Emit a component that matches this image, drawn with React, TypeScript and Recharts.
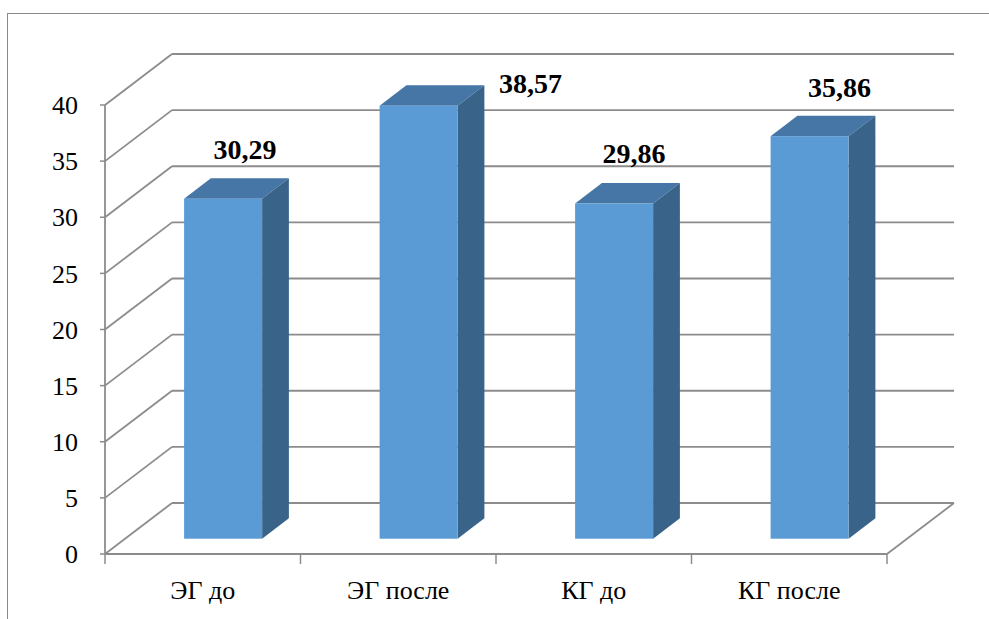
import React from "react"
import {
  BarChart,
  Bar,
  XAxis,
  YAxis,
  CartesianGrid,
  LabelList,
} from "recharts"

const CATEGORIES = ["ЭГ до", "ЭГ после", "КГ до", "КГ после"]
const SCORES = [30.29, 38.57, 29.86, 35.86]
const Y_TICKS = [0, 5, 10, 15, 20, 25, 30, 35, 40]

const chartData = CATEGORIES.map((name, i) => ({ name, score: SCORES[i] }))

const CHART_W = 989
const CHART_H = 619
const X_AXIS_H = 65
const MARGIN = { top: 105, right: 102, bottom: 0, left: 8 }
const Y_AXIS_W = 97
const PLOT_LEFT = MARGIN.left + Y_AXIS_W
const PLOT_RIGHT = CHART_W - MARGIN.right
const PLOT_BOTTOM = CHART_H - MARGIN.bottom - X_AXIS_H
const BAND = (PLOT_RIGHT - PLOT_LEFT) / CATEGORIES.length

// oblique depth of the floor / side wall
const DEPTH_X = 67
const DEPTH_Y = 51
// the columns sit between 30% and 70% of the depth
const FRONT_X = DEPTH_X * 0.3
const FRONT_Y = DEPTH_Y * 0.3
const BOX_X = DEPTH_X * 0.4
const BOX_Y = DEPTH_Y * 0.4

const GRID = "#8c8c8c"
const FONT = "Liberation Serif"

const FACE = "#5b9bd5"
const TOP = "#4676a6"
const SIDE = "#3a6389"

// label nudges so the values don't crowd the tops
const LABEL_NUDGE = [
  [2, 0],
  [92, 27],
  [0, -1],
  [10, 1],
]

function GridLine(props: any) {
  const { x1, x2, y1 } = props
  const by = y1 - DEPTH_Y
  const isFloor = Math.abs(y1 - PLOT_BOTTOM) < 0.5
  return (
    <g stroke={GRID} strokeWidth={1.8} fill="none">
      <line x1={x1} y1={y1} x2={x1 + DEPTH_X} y2={by} />
      <line x1={x1 + DEPTH_X} y1={by} x2={x2 + DEPTH_X} y2={by} />
      {isFloor && (
        <>
          <line x1={x1} y1={y1} x2={x2} y2={y1} />
          <line x1={x2} y1={y1} x2={x2 + DEPTH_X} y2={by} />
        </>
      )}
    </g>
  )
}

function Column(props: any) {
  const { x, y, width, height } = props
  const fx = x + FRONT_X
  const fy = y - FRONT_Y
  const bottom = fy + height
  return (
    <g>
      <polygon
        points={`${fx},${fy} ${fx + width},${fy} ${fx + width + BOX_X},${fy - BOX_Y} ${fx + BOX_X},${fy - BOX_Y}`}
        fill={TOP}
      />
      <polygon
        points={`${fx + width},${fy} ${fx + width + BOX_X},${fy - BOX_Y} ${fx + width + BOX_X},${bottom - BOX_Y} ${fx + width},${bottom}`}
        fill={SIDE}
      />
      <rect x={fx} y={fy} width={width} height={height} fill={FACE} />
    </g>
  )
}

function ValueLabel(props: any) {
  const { x, y, width, value, index } = props
  const [nx, ny] = LABEL_NUDGE[index] || [0, 0]
  return (
    <text
      x={x + width / 2 + 40 + nx}
      y={y - 55 + ny}
      textAnchor="middle"
      fontFamily={FONT}
      fontWeight="bold"
      fontSize={28}
      fill="#000"
    >
      {Number(value).toFixed(2).replace(".", ",")}
    </text>
  )
}

function CategoryTick(props: any) {
  const { x, payload, index } = props
  const left = x - BAND / 2
  const last = index === CATEGORIES.length - 1
  return (
    <g>
      <line x1={left} y1={PLOT_BOTTOM} x2={left} y2={PLOT_BOTTOM + 10} stroke={GRID} strokeWidth={1.5} />
      {last && (
        <line
          x1={left + BAND}
          y1={PLOT_BOTTOM}
          x2={left + BAND}
          y2={PLOT_BOTTOM + 10}
          stroke={GRID}
          strokeWidth={1.5}
        />
      )}
      <text x={x} y={599} textAnchor="middle" fontFamily={FONT} fontSize={26} fill="#000">
        {payload.value}
      </text>
    </g>
  )
}

export default function App() {
  return (
    <div
      style={{
        position: "absolute",
        left: 0,
        top: 0,
        width: CHART_W,
        height: CHART_H,
        background: "#fff",
        overflow: "hidden",
        fontFamily: FONT,
      }}
    >
      {/* touch both faces on the first paint so the svg text picks them up */}
      <span style={{ position: "absolute", left: 0, top: 0, fontFamily: FONT, fontSize: 26 }}>{"\u00a0"}</span>
      <span style={{ position: "absolute", left: 0, top: 0, fontFamily: FONT, fontSize: 28, fontWeight: "bold" }}>
        {"\u00a0"}
      </span>
      <div
        style={{
          position: "absolute",
          left: 7,
          top: 13,
          width: CHART_W,
          height: CHART_H,
          borderLeft: "1px solid #8a8a8a",
          borderTop: "1px solid #8a8a8a",
        }}
      />
      <BarChart
        width={CHART_W}
        height={CHART_H}
        data={chartData}
        margin={MARGIN}
        style={{ position: "absolute", left: 0, top: 0, fontFamily: FONT }}
      >
        <CartesianGrid vertical={false} horizontal={(p: any) => <GridLine key={p.key} {...p} />} />
        <XAxis
          dataKey="name"
          height={X_AXIS_H}
          axisLine={false}
          tickLine={false}
          tick={<CategoryTick />}
          interval={0}
        />
        <YAxis
          width={Y_AXIS_W}
          domain={[0, 40]}
          ticks={Y_TICKS}
          interval={0}
          axisLine={{ stroke: GRID, strokeWidth: 1.8 }}
          tickLine={{ stroke: GRID, strokeWidth: 1.5 }}
          tickSize={5}
          tickMargin={22}
          tick={{ fontFamily: FONT, fontSize: 26, fill: "#000" }}
        />
        <Bar dataKey="score" barSize={78} shape={<Column />} isAnimationActive={false}>
          <LabelList dataKey="score" content={<ValueLabel />} />
        </Bar>
      </BarChart>
    </div>
  )
}
